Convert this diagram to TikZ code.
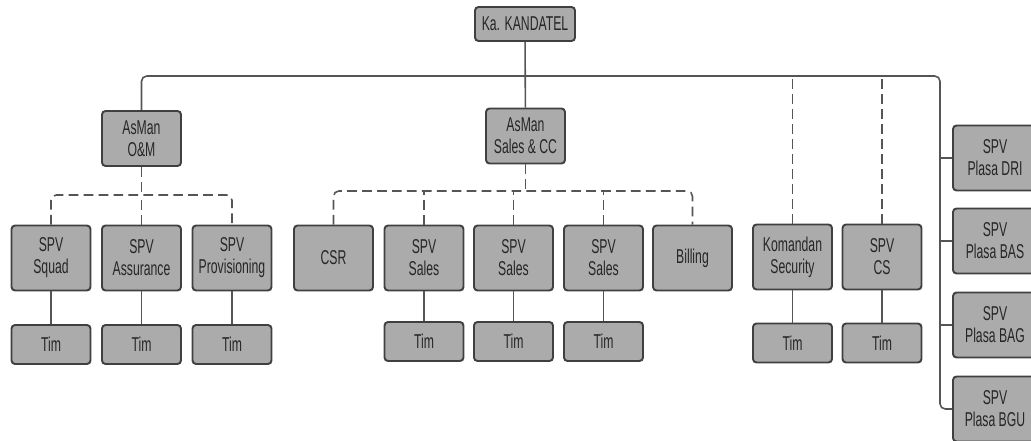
\documentclass[tikz,border=0pt]{standalone}
\usepackage{fontspec}
\setmainfont[FakeStretch=0.61]{Liberation Sans}
\usepackage{xcolor}
\usepackage{tikz}
\definecolor{isikotak}{HTML}{ABABAB}
\definecolor{tepikotak}{HTML}{404040}
\definecolor{kawat}{HTML}{555555}
\newcommand{\jabatan}[4][kotak]{\node[#1] (#2) at (#3) {#4}}

\begin{document}
\begin{tikzpicture}[x=0.02cm,y=-0.02cm,
    kotak/.style={draw=tepikotak, fill=isikotak, line width=1.1pt, rounded corners=2pt,
      minimum width=1.58cm, minimum height=1.3cm, inner sep=1pt, align=center,
      text=black!85, font=\fontsize{11.4}{12.6}\selectfont},
    kotaktim/.style={kotak, minimum height=0.78cm},
    garis/.style={draw=kawat, line width=0.9pt},
    garisputus/.style={garis, dash pattern=on 5.5pt off 3pt}]
    \useasboundingbox (0,0) rectangle (1031,440);
    \clip (0,0) rectangle (1031,440);

    \jabatan[kotak, minimum width=2cm, minimum height=0.68cm]{kandatel}{525,24}{Ka. KANDATEL};
    \jabatan[kotak, minimum height=1.1cm]{om}{141.5,138.5}{AsMan\\O\&M};
    \jabatan[kotak, minimum height=1.1cm]{salescc}{525.5,136}{AsMan\\Sales \& CC};

    \jabatan{squad}{51,258}{SPV\\Squad};
    \jabatan{assur}{141.5,258}{SPV\\Assurance};
    \jabatan{prov}{232,258}{SPV\\Provisioning};
    \jabatan{csr}{333.5,258}{CSR};
    \jabatan{sales1}{424,258}{SPV\\Sales};
    \jabatan{sales2}{513.5,258}{SPV\\Sales};
    \jabatan{sales3}{603.5,258}{SPV\\Sales};
    \jabatan{billing}{692.5,258}{Billing};
    \jabatan{komandan}{792.5,257}{Komandan\\Security};
    \jabatan{cs}{882,257}{SPV\\CS};

    \jabatan[kotaktim]{timsquad}{51,344.5}{Tim};
    \jabatan[kotaktim]{timassur}{141.5,344.5}{Tim};
    \jabatan[kotaktim]{timprov}{232,344.5}{Tim};
    \jabatan[kotaktim]{timsales1}{424,341.5}{Tim};
    \jabatan[kotaktim]{timsales2}{513.5,341.5}{Tim};
    \jabatan[kotaktim]{timsales3}{603.5,341.5}{Tim};
    \jabatan[kotaktim]{timkomandan}{792.5,343}{Tim};
    \jabatan[kotaktim]{timcs}{882,343}{Tim};

    \jabatan[kotak, minimum width=1.68cm]{plasadri}{995,158}{SPV\\Plasa DRI};
    \jabatan[kotak, minimum width=1.68cm]{plasabas}{995,241}{SPV\\Plasa BAS};
    \jabatan[kotak, minimum width=1.68cm]{plasabag}{995,325}{SPV\\Plasa BAG};
    \jabatan[kotak, minimum width=1.68cm]{plasabgu}{995,409}{SPV\\Plasa BGU};

    % garis utama
    \coordinate (busatas) at (525,76);
    \coordinate (buskanan) at (940,76);
    \draw[garis] (kandatel) -- (salescc);
    \draw[garis, rounded corners=3pt] (om.north) |- (buskanan) |- (plasabgu.west);
    \foreach \p in {plasadri,plasabas,plasabag}
      \draw[garis] (\p.west) -- (\p.west -| buskanan);
    \foreach \p in {komandan,cs}
      \draw[garisputus] (\p.north) -- (\p.north |- busatas);

    % O&M
    \coordinate (busom) at (141.5,195);
    \draw[garisputus] (om) -- (busom);
    \draw[garisputus, rounded corners=3pt] (squad.north) |- (busom) -| (prov.north);
    \draw[garisputus] (assur.north) -- (assur.north |- busom);

    % Sales & CC
    \coordinate (bussales) at (525.5,191);
    \draw[garisputus] (salescc) -- (bussales);
    \draw[garisputus, rounded corners=3pt] (csr.north) |- (bussales) -| (billing.north);
    \foreach \s in {sales1,sales2,sales3}
      \draw[garisputus] (\s.north) -- (\s.north |- bussales);

    % tim
    \foreach \a/\b in {squad/timsquad,assur/timassur,prov/timprov,sales1/timsales1,
      sales2/timsales2,sales3/timsales3,komandan/timkomandan,cs/timcs}
      \draw[garis] (\a) -- (\b);
\end{tikzpicture}
\end{document}
